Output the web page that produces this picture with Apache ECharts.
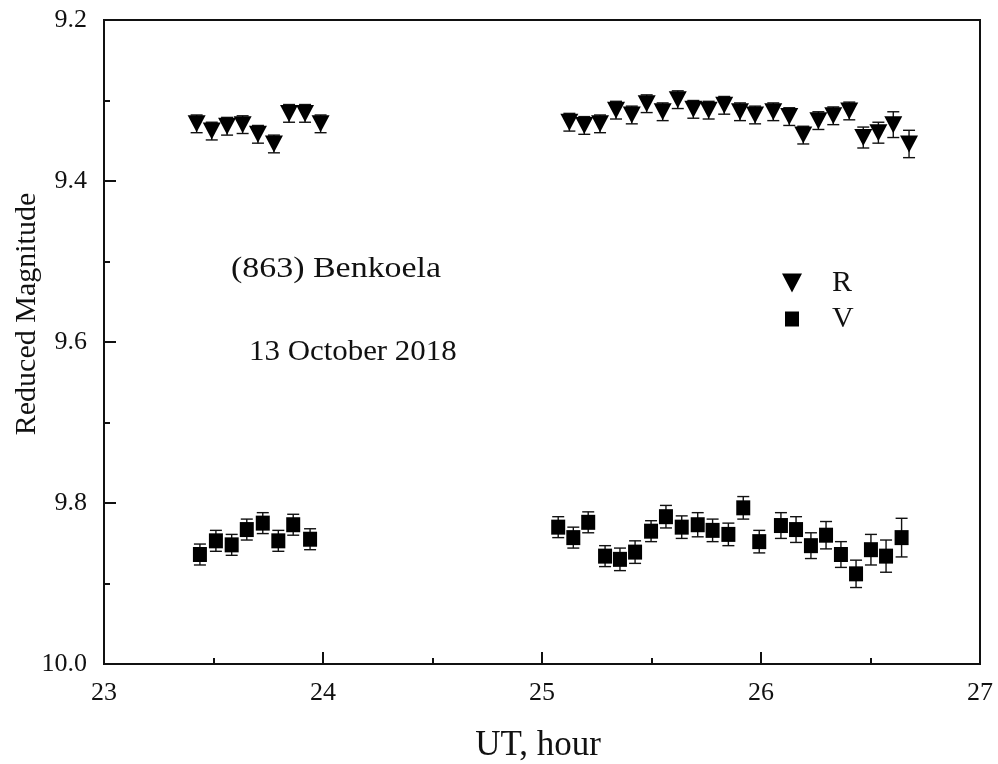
<!DOCTYPE html>
<html>
<head>
<meta charset="utf-8">
<title>(863) Benkoela — 13 October 2018</title>
<script src="https://cdn.jsdelivr.net/npm/echarts@6/dist/echarts.min.js"></script>
<style>
  html, body { margin: 0; padding: 0; background: #fff; }
  #chart { width: 998px; height: 764px; }
</style>
</head>
<body>
<div id="chart"></div>
<script>
// Observation times (UT, hours past 0h on 13 Oct) and reduced magnitudes
const rHours = [23.423, 23.492, 23.562, 23.633, 23.703, 23.776, 23.845, 23.918, 23.989,
  25.125, 25.193, 25.265, 25.338, 25.410, 25.478, 25.551, 25.620, 25.691, 25.761, 25.832,
  25.904, 25.973, 26.056, 26.129, 26.193, 26.262, 26.330, 26.403, 26.467, 26.536, 26.604, 26.676];
const rMag = [9.329, 9.338, 9.332, 9.330, 9.342, 9.354, 9.316, 9.316, 9.329,
  9.327, 9.331, 9.329, 9.312, 9.318, 9.304, 9.314, 9.299, 9.311, 9.312, 9.306,
  9.314, 9.318, 9.314, 9.320, 9.343, 9.325, 9.319, 9.313, 9.346, 9.340, 9.330, 9.354];
const rErr = [0.011, 0.011, 0.011, 0.011, 0.011, 0.011, 0.011, 0.011, 0.011,
  0.011, 0.011, 0.011, 0.011, 0.011, 0.011, 0.011, 0.011, 0.011, 0.011, 0.011,
  0.011, 0.011, 0.011, 0.011, 0.011, 0.011, 0.011, 0.011, 0.013, 0.013, 0.016, 0.017];

const vHours = [23.438, 23.511, 23.583, 23.652, 23.725, 23.796, 23.864, 23.941,
  25.074, 25.143, 25.211, 25.288, 25.356, 25.425, 25.498, 25.566, 25.638, 25.711, 25.779,
  25.851, 25.919, 25.992, 26.091, 26.160, 26.228, 26.297, 26.365, 26.434, 26.502, 26.571, 26.642];
const vMag = [9.864, 9.847, 9.852, 9.833, 9.825, 9.847, 9.827, 9.845,
  9.830, 9.843, 9.824, 9.866, 9.870, 9.861, 9.835, 9.817, 9.830, 9.827, 9.834,
  9.839, 9.806, 9.848, 9.828, 9.833, 9.853, 9.840, 9.864, 9.888, 9.858, 9.866, 9.843];
const vErr = [0.013, 0.013, 0.013, 0.013, 0.013, 0.013, 0.013, 0.013,
  0.013, 0.013, 0.013, 0.013, 0.014, 0.014, 0.013, 0.014, 0.014, 0.015, 0.014,
  0.014, 0.014, 0.014, 0.016, 0.016, 0.016, 0.017, 0.016, 0.017, 0.019, 0.020, 0.024];

// Axis ranges and tick labels
const xRange = [23, 27];
const xStep = 1;
const yRange = [9.2, 10.0];
const yStep = 0.2;

const SERIF = '"Liberation Serif", "Times New Roman", serif';
const INK = '#111';

const points = (xs, ys) => xs.map((x, i) => [x, ys[i]]);
const bars = (xs, ys, es) => xs.map((x, i) => [x, ys[i] - es[i], ys[i] + es[i]]);

// Vertical error bar with short caps at both ends
function renderErrorBar(params, api) {
  const x = api.value(0);
  const lo = api.coord([x, api.value(1)]);
  const hi = api.coord([x, api.value(2)]);
  const cap = 6;
  const style = { stroke: INK, lineWidth: 1.4 };
  return {
    type: 'group',
    children: [
      { type: 'line', shape: { x1: lo[0], y1: lo[1], x2: hi[0], y2: hi[1] }, style },
      { type: 'line', shape: { x1: lo[0] - cap, y1: lo[1], x2: lo[0] + cap, y2: lo[1] }, style },
      { type: 'line', shape: { x1: hi[0] - cap, y1: hi[1], x2: hi[0] + cap, y2: hi[1] }, style }
    ]
  };
}

// Legend icons on a 20x20 frame (tiny corner dots fix the frame size)
const FRAME = 'M0,0L0.01,0Z M20,20L19.99,20Z ';
const triangleDownIcon = 'path://' + FRAME + 'M0,0.5L20,0.5L10,19.5Z';
const squareIcon = 'path://' + FRAME + 'M3,2.5L17,2.5L17,17.5L3,17.5Z';

const chart = echarts.init(document.getElementById('chart'), null, { renderer: 'canvas' });

chart.setOption({
  animation: false,
  backgroundColor: '#fff',
  grid: {
    left: 104, right: 18, top: 20, bottom: 100,
    outerBoundsMode: 'none',
    containLabel: false,
    show: true, borderColor: INK, borderWidth: 2, backgroundColor: 'transparent'
  },
  xAxis: {
    type: 'value',
    min: xRange[0], max: xRange[1], interval: xStep,
    name: 'UT, hour',
    nameLocation: 'middle',
    nameGap: 64,
    nameMoveOverlap: false,
    nameTextStyle: { fontFamily: SERIF, fontSize: 35, color: INK, padding: [0, 8, 0, 0] },
    axisLine: { show: true, lineStyle: { color: INK, width: 2 } },
    axisTick: { show: true, inside: true, length: 12, lineStyle: { color: INK, width: 2 } },
    minorTick: { show: true, splitNumber: 2, length: 6, lineStyle: { color: INK, width: 2 } },
    axisLabel: { fontFamily: SERIF, fontSize: 26, color: INK, margin: 16 },
    splitLine: { show: false }
  },
  yAxis: {
    type: 'value',
    inverse: true,
    min: yRange[0], max: yRange[1], interval: yStep,
    name: 'Reduced Magnitude',
    nameLocation: 'middle',
    nameGap: 62,
    nameMoveOverlap: false,
    nameRotate: 90,
    nameTextStyle: { fontFamily: SERIF, fontSize: 30, color: INK, padding: [0, 0, 0, 56] },
    axisLine: { show: true, lineStyle: { color: INK, width: 2 } },
    axisTick: { show: true, inside: true, length: 12, lineStyle: { color: INK, width: 2 } },
    minorTick: { show: true, splitNumber: 2, length: 6, lineStyle: { color: INK, width: 2 } },
    axisLabel: {
      fontFamily: SERIF, fontSize: 26, color: INK, margin: 17,
      formatter: v => v.toFixed(1)
    },
    splitLine: { show: false }
  },
  legend: {
    orient: 'vertical',
    left: 777, top: 263,
    itemWidth: 70, itemHeight: 20, itemGap: 6,
    symbolKeepAspect: true,
    symbolRotate: 0,
    data: [
      { name: 'R', icon: triangleDownIcon },
      { name: 'V', icon: squareIcon }
    ],
    textStyle: { fontFamily: SERIF, fontSize: 30, color: INK },
    selectedMode: false
  },
  graphic: [
    {
      type: 'text', x: 231, y: 269, scaleX: 1.17, silent: true,
      style: { text: '(863) Benkoela', fontFamily: SERIF, fontSize: 29, fill: INK,
               textAlign: 'left', textVerticalAlign: 'middle' }
    },
    {
      type: 'text', x: 249, y: 352, scaleX: 1.03, silent: true,
      style: { text: '13 October 2018', fontFamily: SERIF, fontSize: 30, fill: INK,
               textAlign: 'left', textVerticalAlign: 'middle' }
    }
  ],
  series: [
    {
      name: 'R error', type: 'custom', renderItem: renderErrorBar,
      data: bars(rHours, rMag, rErr), encode: { x: 0, y: [1, 2] }, z: 2, silent: true
    },
    {
      name: 'V error', type: 'custom', renderItem: renderErrorBar,
      data: bars(vHours, vMag, vErr), encode: { x: 0, y: [1, 2] }, z: 2, silent: true
    },
    {
      name: 'R', type: 'scatter',
      symbol: 'triangle', symbolRotate: 180, symbolSize: [18, 17],
      itemStyle: { color: '#000', opacity: 1 },
      data: points(rHours, rMag), z: 3
    },
    {
      name: 'V', type: 'scatter',
      symbol: 'rect', symbolSize: [14, 15],
      itemStyle: { color: '#000', opacity: 1 },
      data: points(vHours, vMag), z: 3
    }
  ]
});
</script>
</body>
</html>
